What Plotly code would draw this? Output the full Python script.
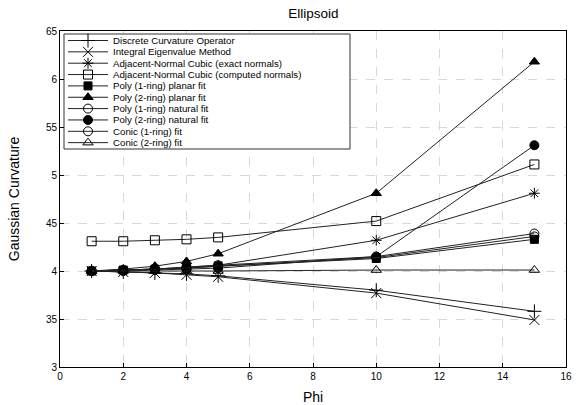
import plotly.graph_objects as go

phi = [1, 2, 3, 4, 5, 10, 15]

names = [
    "Discrete Curvature Operator",
    "Integral Eigenvalue Method",
    "Adjacent-Normal Cubic (exact normals)",
    "Adjacent-Normal Cubic (computed normals)",
    "Poly (1-ring) planar fit",
    "Poly (2-ring) planar fit",
    "Poly (1-ring) natural fit",
    "Poly (2-ring) natural fit",
    "Conic (1-ring) fit",
    "Conic (2-ring) fit",
]

discrete = [4.00, 3.99, 3.98, 3.97, 3.95, 3.80, 3.58]
integral = [4.00, 3.99, 3.98, 3.96, 3.94, 3.77, 3.49]
adj_exact = [4.00, 4.01, 4.02, 4.04, 4.06, 4.32, 4.81]
adj_computed = [4.31, 4.31, 4.32, 4.33, 4.35, 4.52, 5.11]
poly1_planar = [4.00, 4.01, 4.02, 4.03, 4.05, 4.13, 4.33]
poly2_planar = [4.00, 4.02, 4.05, 4.10, 4.18, 4.81, 6.18]
poly1_natural = [4.00, 4.01, 4.02, 4.04, 4.06, 4.15, 4.39]
poly2_natural = [4.00, 4.00, 4.01, 4.02, 4.03, 4.15, 5.31]
conic1 = [4.00, 4.01, 4.02, 4.03, 4.05, 4.14, 4.36]
conic2 = [4.00, 4.00, 4.00, 4.00, 4.00, 4.01, 4.01]

series = [discrete, integral, adj_exact, adj_computed, poly1_planar,
          poly2_planar, poly1_natural, poly2_natural, conic1, conic2]

symbols = ["cross-thin-open", "x-thin-open", "asterisk-open", "square-open",
           "square", "triangle-up", "circle-open", "circle", "circle-open",
           "triangle-up-open"]
sizes = [10, 10, 9, 9, 8, 9, 9, 9, 9, 9]

yticks = [3, 3.5, 4, 4.5, 5, 5.5, 6, 6.5]
ytick_text = ["3", "35", "4", "45", "5", "55", "6", "65"]
xticks = [0, 2, 4, 6, 8, 10, 12, 14, 16]

FONT = "Liberation Sans, Arial, sans-serif"

fig = go.Figure()
for name, ys, sym, sz in zip(names, series, symbols, sizes):
    fig.add_trace(go.Scatter(
        x=phi, y=ys, mode="lines+markers", name=name, showlegend=False,
        line=dict(color="#222222", width=1),
        marker=dict(symbol=sym, size=sz, color="black",
                    line=dict(color="black", width=1)),
    ))

# custom compact legend drawn in a pixel-like overlay axis
L0, L1, T0, T1 = 64, 350, 34, 149
fig.add_trace(go.Scatter(
    x=[L0, L1, L1, L0, L0], y=[T0, T0, T1, T1, T0], mode="lines",
    fill="toself", fillcolor="white", line=dict(color="#333333", width=1),
    xaxis="x2", yaxis="y2", showlegend=False, hoverinfo="skip"))
row0, drow = 40.5, 11.35
for i, (name, sym, sz) in enumerate(zip(names, symbols, sizes)):
    yy = row0 + i * drow
    fig.add_trace(go.Scatter(
        x=[68, 108], y=[yy, yy], mode="lines",
        line=dict(color="#222222", width=1),
        xaxis="x2", yaxis="y2", showlegend=False, hoverinfo="skip"))
    fig.add_trace(go.Scatter(
        x=[88], y=[yy], mode="markers",
        marker=dict(symbol=sym, size=sz, color="black",
                    line=dict(color="black", width=1)),
        xaxis="x2", yaxis="y2", showlegend=False, hoverinfo="skip"))
    fig.add_annotation(x=111, y=yy, xref="x2", yref="y2", text=name,
                       showarrow=False, xanchor="left", yanchor="middle",
                       font=dict(family=FONT, size=9.7, color="black"))

fig.update_layout(
    width=577, height=405,
    margin=dict(l=60, r=11, t=31, b=38, autoexpand=False),
    paper_bgcolor="white", plot_bgcolor="white",
    title=dict(text="Ellipsoid", x=0.543, xanchor="center", y=0.968,
               yanchor="middle", font=dict(family=FONT, size=13.5, color="black")),
    font=dict(family=FONT, color="black"),
    xaxis=dict(range=[0, 16], tickvals=xticks, showline=True, mirror=True,
               linecolor="black", linewidth=1, ticks="inside", ticklen=4,
               tickcolor="black", showgrid=True, gridcolor="#d8d8d8",
               griddash="dash", zeroline=False, automargin=False,
               tickfont=dict(family=FONT, size=10),
               title=dict(text="Phi", font=dict(family=FONT, size=14),
                          standoff=16)),
    yaxis=dict(range=[3, 6.5], tickvals=yticks, ticktext=ytick_text,
               showline=True, mirror=True, linecolor="black", linewidth=1,
               ticks="inside", ticklen=4, tickcolor="black", showgrid=True,
               gridcolor="#d8d8d8", griddash="dash", zeroline=False,
               automargin=False,
               tickfont=dict(family=FONT, size=10),
               title=dict(text="Gaussian Curvature",
                          font=dict(family=FONT, size=14), standoff=22)),
    xaxis2=dict(range=[60, 566], overlaying="x", visible=False,
                showgrid=False, zeroline=False, fixedrange=True),
    yaxis2=dict(range=[367, 31], overlaying="y", visible=False,
                showgrid=False, zeroline=False, fixedrange=True),
)

fig.write_html("out.html",
               config={"displayModeBar": False},
               post_script="document.body.style.margin='0';"
                           "document.body.style.overflow='hidden';")
